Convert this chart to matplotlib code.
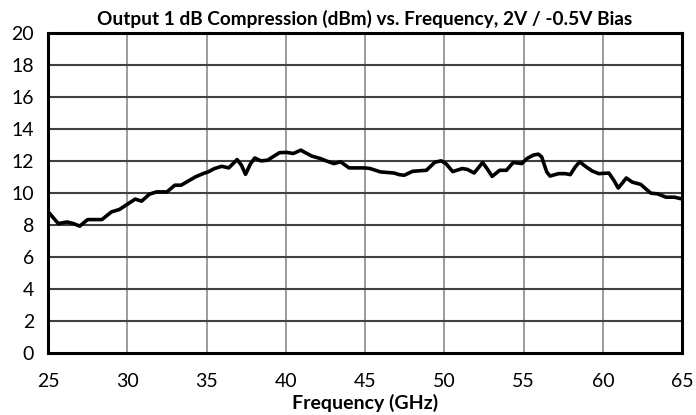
import matplotlib
matplotlib.use("Agg")
import matplotlib.pyplot as plt

# Output P1dB (dBm)
freq_ghz = [25.0, 25.1, 25.65, 26.2, 26.6, 27.0, 27.5, 28.4, 29.0, 29.5, 30.5, 30.9,
            31.4, 31.85, 32.5, 33.0, 33.4, 34.3, 34.8, 35.1, 35.5, 35.96, 36.4, 36.93,
            37.2, 37.46, 37.78, 38.04, 38.43, 38.85, 39.18, 39.6, 40.04, 40.47, 40.95,
            41.2, 41.64, 42.17, 42.6, 43.03, 43.46, 43.99, 44.53, 45.0, 45.32, 45.97,
            46.83, 47.15, 47.47, 48.01, 48.87, 49.41, 49.8, 50.1, 50.53, 51.13, 51.45,
            51.88, 52.42, 52.74, 53.02, 53.49, 53.92, 54.35, 54.89, 55.22, 55.61, 55.93,
            56.14, 56.46, 56.67, 57.2, 57.63, 57.95, 58.26, 58.54, 58.9, 59.32, 59.75,
            60.38, 60.7, 60.97, 61.23, 61.48, 61.86, 62.39, 62.71, 63.03, 63.45, 63.98,
            64.51, 65.0]
p1db_dbm = [8.85, 8.73, 8.1, 8.2, 8.1, 7.94, 8.35, 8.35, 8.83, 8.98, 9.63, 9.5,
            9.94, 10.08, 10.08, 10.5, 10.5, 11.02, 11.23, 11.33, 11.54, 11.68, 11.58, 12.1,
            11.75, 11.18, 11.85, 12.2, 12.02, 12.06, 12.27, 12.53, 12.55, 12.48, 12.69,
            12.55, 12.32, 12.17, 12.0, 11.85, 11.96, 11.58, 11.58, 11.58, 11.54, 11.33,
            11.26, 11.16, 11.12, 11.37, 11.43, 11.94, 12.02, 11.85, 11.35, 11.54, 11.49,
            11.26, 11.92, 11.47, 11.05, 11.43, 11.43, 11.92, 11.85, 12.17, 12.38, 12.44,
            12.27, 11.33, 11.07, 11.22, 11.22, 11.16, 11.64, 11.96, 11.68, 11.39, 11.22,
            11.26, 10.8, 10.32, 10.63, 10.95, 10.69, 10.55, 10.27, 10.0, 9.96, 9.75,
            9.75, 9.64]

x_ticks = [25, 30, 35, 40, 45, 50, 55, 60, 65]
y_ticks = [0, 2, 4, 6, 8, 10, 12, 14, 16, 18, 20]

plt.rcParams['font.family'] = ['Lato', 'DejaVu Sans']

fig = plt.figure(figsize=(6.96, 4.15), dpi=100)
ax = fig.add_axes([0.069, 0.149, 0.911, 0.771])

ax.plot(freq_ghz, p1db_dbm, color='black', lw=2.6, solid_joinstyle='round',
        solid_capstyle='round', zorder=3)

ax.set_xlim(25, 65)
ax.set_ylim(0, 20)
ax.set_xticks(x_ticks)
ax.set_yticks(y_ticks)
ax.tick_params(length=0, labelsize=14, pad=14)
ax.tick_params(axis='y', pad=10)

for x in x_ticks[1:-1]:
    ax.axvline(x, color='#8c8c8c', lw=1.2, zorder=1)
for y in y_ticks[1:-1]:
    ax.axhline(y, color='#404040', lw=1.5, zorder=1)

for s in ax.spines.values():
    s.set_linewidth(2.2)
    s.set_color('black')

ax.set_title('Output 1 dB Compression (dBm) vs. Frequency, 2V / -0.5V Bias',
             fontsize=13.7, fontweight='bold', pad=6)
ax.set_xlabel('Frequency (GHz)', fontsize=14, fontweight='bold', labelpad=3)

fig.savefig('out.png', dpi=100)
